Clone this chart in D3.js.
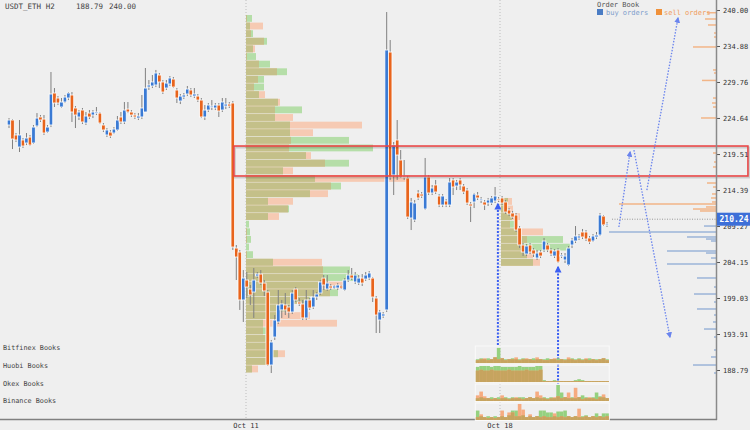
<!DOCTYPE html>
<html>
<head>
<meta charset="utf-8">
<script src="https://cdn.jsdelivr.net/npm/d3@7"></script>
<style>
body { margin: 0; background: #efefef; }
svg { display: block; font-family: "DejaVu Sans Mono", "Liberation Mono", monospace; }
</style>
</head>
<body>
<svg id="chart" width="750" height="430"></svg>
<script>
// ---- data ----
// H2 candles: [open, high, low, close]
const candles = [
  [223.64,224.63,223.21,224.35],[224.35,224.49,220.22,221.65],[222.22,222.50,221.22,221.51],[220.51,224.35,219.80,222.22],
  [221.51,221.79,220.37,220.65],[221.08,222.50,220.79,221.79],[221.93,222.22,220.65,220.79],[221.08,223.64,220.94,223.35],
  [223.50,225.34,223.35,224.63],[224.78,225.06,224.07,224.35],[224.49,225.06,222.22,222.50],[222.64,223.64,222.50,223.35],
  [223.64,231.18,223.35,228.05],[228.19,228.90,226.20,226.77],[227.48,227.76,226.48,226.77],[226.20,227.48,226.06,226.91],
  [226.91,227.91,226.77,227.62],[227.48,228.33,227.19,228.19],[227.91,228.33,224.07,225.49],[226.06,226.34,223.21,225.06],
  [224.78,225.77,224.35,225.49],[225.77,226.06,223.78,224.07],[223.92,225.49,223.64,224.92],[225.34,225.77,224.49,224.78],
  [225.06,225.77,224.63,225.49],[225.34,226.20,225.06,225.49],[225.34,225.49,223.78,223.92],[223.64,223.92,222.64,222.93],
  [222.22,223.21,221.93,222.93],[222.64,222.93,221.79,222.07],[222.50,223.35,222.36,223.07],[222.93,224.92,222.79,224.35],
  [224.78,225.49,223.78,224.07],[224.07,226.91,223.78,225.77],[225.91,226.91,225.34,225.49],[225.49,225.77,224.78,225.06],
  [225.06,225.34,224.49,224.78],[224.63,225.34,224.35,224.92],[224.78,227.91,224.49,226.06],[225.49,231.75,225.49,228.90],
  [229.04,230.04,228.62,229.33],[229.19,230.75,228.90,229.76],[229.33,231.47,229.04,231.04],[230.75,231.04,228.90,229.76],
  [229.76,230.04,228.05,228.33],[228.90,230.04,228.62,229.61],[229.47,230.61,229.19,230.33],[230.18,230.47,228.90,229.04],
  [228.62,228.90,226.77,227.48],[227.05,228.05,226.62,227.76],[227.62,228.19,227.34,227.91],[228.05,229.19,227.76,228.76],
  [228.62,228.90,227.62,227.91],[227.76,228.90,227.48,228.05],[227.76,228.05,226.91,227.19],[227.19,227.48,224.63,224.78],
  [224.78,226.48,224.35,225.77],[225.77,226.77,225.49,226.48],[226.20,227.19,225.77,226.34],[226.06,226.77,225.77,226.48],
  [226.48,226.77,224.78,225.63],[225.77,227.48,225.49,226.91],[226.34,227.48,225.91,226.62],[226.62,226.91,226.06,226.34],
  [226.77,227.05,205.86,206.28],[206.14,206.57,201.59,204.86],[205.57,205.86,197.33,198.75],[198.75,203.01,195.62,201.87],
  [201.59,202.73,199.03,200.59],[200.31,200.88,198.04,199.46],[199.88,203.30,196.19,201.59],[202.16,202.73,201.87,202.44],
  [202.44,203.01,200.88,201.16],[201.16,201.59,199.31,200.03],[199.88,200.17,189.36,189.50],[189.50,193.06,188.36,192.77],
  [193.48,196.61,193.06,195.90],[195.62,200.17,195.33,198.04],[197.33,198.75,196.19,198.18],[198.04,199.74,196.61,197.33],
  [197.75,198.04,196.19,197.04],[197.04,200.17,196.76,199.74],[200.31,200.59,198.46,198.75],[198.46,199.03,197.89,198.18],
  [198.18,198.75,195.90,196.19],[196.19,200.17,195.90,198.75],[198.75,199.03,197.33,197.61],[197.75,200.17,197.47,199.17],
  [199.17,199.88,198.75,199.60],[199.74,201.59,199.46,201.31],[201.87,202.30,200.17,200.88],[200.31,202.30,200.03,201.16],
  [200.74,201.02,200.17,200.45],[200.45,200.88,200.31,200.74],[200.45,201.16,200.17,200.88],[200.74,200.88,200.31,200.45],
  [200.17,201.87,200.03,201.59],[201.59,203.01,201.31,202.30],[202.30,203.30,201.59,201.87],[201.31,202.73,201.02,202.30],
  [201.16,202.30,200.88,201.87],[201.87,202.44,200.74,201.16],[201.73,202.73,201.45,202.30],[201.87,202.87,201.59,202.59],
  [201.87,202.02,198.46,199.17],[199.03,199.31,194.05,196.61],[195.90,197.33,194.05,197.04],[196.47,197.04,196.19,196.76],
  [197.33,239.71,197.04,234.31],[234.02,235.73,215.82,216.24],[216.53,221.22,213.68,220.79],[221.51,224.35,215.82,219.37],
  [218.66,220.08,216.10,216.24],[216.38,218.66,215.82,216.24],[216.10,216.38,210.27,210.55],[210.41,213.26,208.70,212.69],
  [210.13,212.97,209.84,212.54],[213.97,214.39,212.97,213.26],[213.82,214.11,213.26,213.54],[211.69,218.95,211.55,216.24],
  [216.24,216.53,213.68,213.97],[213.97,215.11,213.68,214.68],[215.11,215.82,213.82,214.11],[213.54,213.82,211.97,212.26],
  [212.26,213.82,211.97,213.54],[212.83,213.11,211.97,212.26],[212.26,216.10,211.97,215.53],[215.82,216.10,213.68,214.82],
  [214.96,215.82,214.39,215.53],[215.82,216.10,214.39,215.11],[214.96,215.25,213.82,214.11],[214.39,214.68,212.26,212.54],
  [212.40,212.69,209.84,212.12],[212.69,213.97,211.83,213.82],[213.68,214.11,212.97,213.26],[212.97,213.40,212.54,213.11],
  [212.69,212.97,211.55,212.26],[212.54,213.26,212.12,212.97],[212.54,213.54,212.26,213.26],[212.83,214.82,212.54,213.54],
  [213.11,213.40,212.69,212.97],[213.26,213.54,212.26,212.54],[212.69,212.97,210.98,211.26],[211.55,211.83,210.69,210.98],
  [211.12,211.41,210.27,210.55],[210.84,211.12,208.42,208.70],[208.99,209.27,206.14,206.57],[206.57,206.85,205.00,205.57],
  [205.29,206.71,205.00,206.43],[206.57,206.85,205.29,205.57],[205.86,206.14,204.86,205.29],[204.72,205.86,204.44,205.43],
  [205.57,205.86,204.72,205.00],[205.86,207.57,205.57,207.14],[206.57,206.85,205.57,205.86],[205.86,206.14,205.00,205.29],
  [205.00,206.00,204.72,205.72],[205.86,206.14,204.01,204.15],[205.00,205.43,204.72,205.15],[204.44,205.43,204.01,205.00],
  [203.73,206.43,203.58,206.14],[206.57,207.57,206.14,207.28],[207.14,209.27,206.85,207.85],[207.57,208.13,207.28,207.85],
  [208.42,208.85,207.42,207.71],[208.42,208.70,207.14,207.42],[207.57,207.85,206.71,207.00],[207.14,208.13,207.00,207.85],
  [207.71,208.42,207.42,207.99],[207.99,211.12,207.85,210.84],[210.69,210.84,209.27,209.42],[209.42,209.84,209.13,209.56]
];

const pair = "USDT_ETH H2";
const rangeLow = 188.79, rangeHigh = 240.00;
const lastPrice = 210.24;
const priceTicks = [240.00, 234.88, 229.76, 224.64, 219.51, 214.39, 209.27, 204.15, 199.03, 193.91, 188.79];
const dateTicks = [new Date(2019, 9, 11), new Date(2019, 9, 18)];
const dateLabels = ["Oct 11", "Oct 18"];

// volume profile anchored at Oct 11 (47 price rows from the top)
const profTop = 239.29, profStep = 1.084;
const profBuy  = [6,4,7,21,7,10,24,41,18,18,13,32,56,29,44,44,103,127,60,103,37,69,95,64,22,43,22,3,4,5,3,7,27,104,112,76,92,64,47,34,17,22,24,26,32,20,6];
const profSell = [1,17,5,18,9,1,13,31,12,8,19,34,29,47,116,67,45,43,65,79,47,164,85,82,47,42,33,0,1,1,0,1,76,77,77,99,84,63,46,64,91,17,19,21,39,20,12];
// small profile anchored at Oct 18
const prof2Top = 213.26;
const prof2Buy  = [7,7,11,16,19,62,69,26,32];
const prof2Sell = [11,12,19,9,42,26,22,32,39];

// order book
const sellPrices = [239.61,238.72,237.87,236.73,236.16,234.74,231.47,231.04,229.98,227.48,226.77,226.20,224.64,219.66,218.38,217.67,215.39,214.82,213.83,213.26,212.69,212.40,211.98,211.69,211.41];
const sellSizes  = [9,11,8,2,2,23,3,2,14,3,4,3,15,3,2,3,9,3,4,5,4,97,10,23,16];
const buyPrices  = [209.27,208.42,207.71,207.42,207.14,205.72,205.43,204.72,203.87,201.88,200.60,199.60,198.46,197.47,196.61,195.62,194.62,193.48,191.63,190.64,189.50,188.36];
const buySizes   = [12,107,29,10,5,49,10,5,49,19,2,22,2,19,2,3,12,2,2,5,23,2];

// exchange books (one bar per candle, from candle 134)
const books = ["Bitfinex Books", "Huobi Books", "Okex Books", "Binance Books"];
const bookStart = 134;
const bookBuy = [
  [4,5,4,5,4,6,16,5,4,4,5,4,4,5,4,4,5,4,4,4,5,4,4,5,4,4,4,5,4,5,4,4,5,4,4,4,5,4],
  [16,17,17,17,16,17,17,16,16,16,16,16,17,16,16,16,16,17,17,2,1,1,2,1,1,1,1,1,2,3,2,1,1,1,1,1,1,1],
  [3,4,3,3,4,3,4,3,4,3,4,3,4,4,3,4,3,4,3,4,3,4,3,17,9,4,3,4,3,4,6,4,3,4,9,5,4,3],
  [10,4,3,4,3,4,3,4,3,5,10,10,4,5,3,4,3,4,10,10,8,8,4,9,9,10,4,3,4,3,4,5,3,4,7,4,7,7]
];
const bookSell = [
  [3,4,5,3,4,6,4,5,3,4,4,6,3,4,5,4,3,6,4,3,3,4,5,3,4,3,6,4,3,4,3,5,3,4,3,4,5,3],
  [12,13,12,12,13,12,12,12,12,13,12,12,12,12,13,12,12,12,13,1,1,1,1,1,1,1,1,1,1,1,1,1,1,1,1,1,1,1],
  [6,10,5,3,2,3,2,6,3,2,3,4,3,2,3,4,3,10,6,3,2,3,4,5,3,4,9,3,14,4,2,3,4,3,2,4,7,3],
  [3,6,3,2,3,2,3,10,3,8,8,4,17,11,3,6,3,4,3,4,3,3,7,3,4,3,4,3,4,12,3,4,3,4,3,4,3,4]
];

// drawn annotations, in (candle index, price)
const zone = { i0: 64.3, i1: 211.3, p0: 216.39, p1: 220.65 };
const bigArrows = [
  { from: [139.8, 192.35], to: [139.8, 212.4] },
  { from: [157.0, 186.80], to: [157.0, 203.44] }
];
const pathArrows = [
  { from: [174.4, 209.13], to: [177.6, 219.80] },
  { from: [178.7, 220.08], to: [189.0, 193.48] },
  { from: [182.4, 214.39], to: [191.3, 238.86] }
];

// ---- chart ----
const svg = d3.select("#chart");
const plotRight = 716, plotBottom = 419;

const y = d3.scaleLinear().domain([rangeLow, rangeHigh]).range([370, 10]);
const xi = d3.scaleLinear().domain([0, candles.length - 1]).range([9, 607]);
const xt = d3.scaleTime().domain(dateTicks).range([246, 500]);
const vol = d3.scaleLinear().domain([0, 100]).range([0, 100]);
const bookH = d3.scaleLinear().domain([0, 18]).range([0, 17]);
const step = xi(1) - xi(0);

svg.append("rect").attr("width", 750).attr("height", 430).attr("fill", "#efefef");

// dotted day lines
svg.append("g").selectAll("line").data(dateTicks).join("line")
  .attr("x1", d => xt(d)).attr("x2", d => xt(d))
  .attr("y1", 0).attr("y2", plotBottom)
  .attr("stroke", "#bdbdbd").attr("stroke-dasharray", "1,2");

// volume profiles
function drawProfile(top, buy, sell, x0) {
  const g = svg.append("g");
  const rows = buy.map((b, i) => ({ b: b, s: sell[i], p: top - i * profStep }));
  const rowY = d => y(d.p);
  const rowH = y(0) - y(profStep) - 0.8;
  g.selectAll(".b").data(rows).join("rect")
    .attr("x", x0).attr("y", rowY).attr("height", rowH)
    .attr("width", d => vol(d.b)).attr("fill", "#b5dea8");
  g.selectAll(".s").data(rows).join("rect")
    .attr("x", x0).attr("y", rowY).attr("height", rowH)
    .attr("width", d => vol(d.s)).attr("fill", "#f6cab3");
  g.selectAll(".o").data(rows).join("rect")
    .attr("x", x0).attr("y", rowY).attr("height", rowH)
    .attr("width", d => vol(Math.min(d.b, d.s))).attr("fill", "#c4c089");
}
drawProfile(profTop, profBuy, profSell, xt(dateTicks[0]));
drawProfile(prof2Top, prof2Buy, prof2Sell, xt(dateTicks[1]) + 1);

// candles
const cg = svg.append("g");
cg.selectAll("line").data(candles).join("line")
  .attr("x1", (d, i) => xi(i)).attr("x2", (d, i) => xi(i))
  .attr("y1", d => y(d[1])).attr("y2", d => y(d[2]))
  .attr("stroke", "#808080").attr("stroke-width", 1);
cg.selectAll("rect").data(candles).join("rect")
  .attr("x", (d, i) => xi(i) - 1.8).attr("width", 3.6)
  .attr("y", d => y(Math.max(d[0], d[3])))
  .attr("height", d => Math.max(1.2, Math.abs(y(d[0]) - y(d[3]))))
  .attr("fill", d => d[3] >= d[0] ? "#3a7ad4" : "#e8641c")
  .attr("stroke", "#fff").attr("stroke-width", 0.8);

// highlighted zone
const zx = xi(zone.i0), zw = xi(zone.i1) - xi(zone.i0);
const zy = y(zone.p1), zh = y(zone.p0) - y(zone.p1);
svg.append("rect").attr("x", zx + 1).attr("y", zy + 1.5).attr("width", zw).attr("height", zh)
  .attr("fill", "none").attr("stroke", "rgba(0,0,0,0.15)").attr("stroke-width", 2);
svg.append("rect").attr("x", zx).attr("y", zy).attr("width", zw).attr("height", zh)
  .attr("fill", "none").attr("stroke", "#e84848").attr("stroke-width", 1.6);

// order book
const ob = svg.append("g");
ob.selectAll(".sell").data(sellPrices).join("line")
  .attr("x1", (d, i) => plotRight - vol(sellSizes[i])).attr("x2", plotRight)
  .attr("y1", d => y(d)).attr("y2", d => y(d))
  .attr("stroke", "#f2b587").attr("stroke-width", 1.5);
ob.selectAll(".buy").data(buyPrices).join("line")
  .attr("x1", (d, i) => plotRight - vol(buySizes[i])).attr("x2", plotRight)
  .attr("y1", d => y(d)).attr("y2", d => y(d))
  .attr("stroke", "#9bb4d8").attr("stroke-width", 1.5);

// last price line
svg.append("line")
  .attr("x1", xi(candles.length - 1) + 5).attr("x2", plotRight)
  .attr("y1", y(lastPrice)).attr("y2", y(lastPrice))
  .attr("stroke", "#9a9a9a").attr("stroke-dasharray", "1,1.5");

// axes
const yAxis = svg.append("g").attr("transform", `translate(${plotRight + 1},0)`)
  .call(d3.axisRight(y).tickValues(priceTicks).tickFormat(d3.format(".2f")).tickSize(3).tickPadding(3));
yAxis.select(".domain").remove();
yAxis.selectAll("line").attr("stroke", "#555");
yAxis.selectAll("text").attr("font-size", 7).attr("fill", "#333").attr("font-family", "DejaVu Sans Mono");

svg.append("line").attr("x1", plotRight + 0.5).attr("x2", plotRight + 0.5).attr("y1", 0).attr("y2", plotBottom + 1)
  .attr("stroke", "#8a8a8a").attr("stroke-width", 1.5);
svg.append("line").attr("x1", 0).attr("x2", plotRight + 1).attr("y1", plotBottom + 0.5).attr("y2", plotBottom + 0.5)
  .attr("stroke", "#808080").attr("stroke-width", 1.5);

svg.append("g").selectAll("text").data(dateTicks).join("text")
  .attr("x", d => xt(d)).attr("y", 428).attr("text-anchor", "middle")
  .attr("font-size", 7).attr("fill", "#333").text((d, i) => dateLabels[i]);

// last price tag
svg.append("rect").attr("x", plotRight + 1).attr("y", y(lastPrice) - 6.5).attr("width", 34).attr("height", 13)
  .attr("fill", "#3d6fd8");
svg.append("text").attr("x", plotRight + 18).attr("y", y(lastPrice) + 3).attr("text-anchor", "middle")
  .attr("font-size", 8).attr("font-weight", "bold").attr("fill", "#fff").text(lastPrice.toFixed(2));

// arrows
const defs = svg.append("defs");
function arrowHead(id, color, size) {
  defs.append("marker").attr("id", id).attr("viewBox", "0 0 10 10").attr("refX", 8).attr("refY", 5)
    .attr("markerUnits", "userSpaceOnUse").attr("markerWidth", size).attr("markerHeight", size)
    .attr("orient", "auto")
    .append("path").attr("d", "M0,0L10,5L0,10z").attr("fill", color);
}
arrowHead("headBig", "#3a5ef2", 7);
arrowHead("headSmall", "#6a84ee", 6);

svg.append("g").selectAll("line").data(bigArrows).join("line")
  .attr("x1", d => xi(d.from[0])).attr("y1", d => y(d.from[1]))
  .attr("x2", d => xi(d.to[0])).attr("y2", d => y(d.to[1]))
  .attr("stroke", "#3a5ef2").attr("stroke-width", 2).attr("stroke-dasharray", "2,1.5")
  .attr("marker-end", "url(#headBig)");
svg.append("g").selectAll("line").data(pathArrows).join("line")
  .attr("x1", d => xi(d.from[0])).attr("y1", d => y(d.from[1]))
  .attr("x2", d => xi(d.to[0])).attr("y2", d => y(d.to[1]))
  .attr("stroke", "#6a84ee").attr("stroke-width", 1.3).attr("stroke-dasharray", "1.5,1.5")
  .attr("marker-end", "url(#headSmall)");

// exchange book panels
const panelY = d3.scaleBand().domain(books).range([346, 421]).paddingInner(0.05);
const labelY = d3.scaleBand().domain(books).range([345, 416]);
const bx = i => xi(bookStart + i) - step / 2;
books.forEach((name, k) => {
  const g = svg.append("g");
  const base = panelY(name) + panelY.bandwidth() - 1;
  g.append("rect").attr("x", bx(0) - 0.5).attr("y", panelY(name)).attr("width", step * bookBuy[k].length + 1)
    .attr("height", panelY.bandwidth() - 0.5).attr("fill", "none").attr("stroke", "#fafafa");
  const bars = bookBuy[k].map((b, i) => ({ b: b, s: bookSell[k][i], i: i }));
  g.selectAll(".b").data(bars).join("rect")
    .attr("x", d => bx(d.i)).attr("width", step + 0.1)
    .attr("y", d => base - bookH(d.b)).attr("height", d => bookH(d.b)).attr("fill", "#95d17f");
  g.selectAll(".s").data(bars).join("rect")
    .attr("x", d => bx(d.i)).attr("width", step + 0.1)
    .attr("y", d => base - bookH(d.s)).attr("height", d => bookH(d.s)).attr("fill", "#f6ab80");
  g.selectAll(".o").data(bars).join("rect")
    .attr("x", d => bx(d.i)).attr("width", step + 0.1)
    .attr("y", d => base - bookH(Math.min(d.b, d.s))).attr("height", d => bookH(Math.min(d.b, d.s)))
    .attr("fill", "#c6a45f");
  svg.append("text").attr("x", 3).attr("y", labelY(name) + 5)
    .attr("font-size", 6.8).attr("fill", "#444").text(name);
});

// title and legend
const title = svg.append("g").attr("font-size", 7.5).attr("fill", "#444");
title.append("text").attr("x", 5).attr("y", 9).text(pair);
title.append("text").attr("x", 76).attr("y", 9).text(rangeLow.toFixed(2));
title.append("text").attr("x", 109).attr("y", 9).text(rangeHigh.toFixed(2));

const lg = svg.append("g").attr("font-size", 7);
lg.append("text").attr("x", 597).attr("y", 7).attr("fill", "#555").text("Order Book");
lg.append("rect").attr("x", 597).attr("y", 9).attr("width", 6).attr("height", 6).attr("fill", "#4a7cc4");
lg.append("text").attr("x", 606).attr("y", 15).attr("fill", "#7d9dcc").text("buy orders");
lg.append("rect").attr("x", 656).attr("y", 9).attr("width", 6).attr("height", 6).attr("fill", "#f0913a");
lg.append("text").attr("x", 664).attr("y", 15).attr("fill", "#f09c5c").text("sell orders");
</script>
</body>
</html>
